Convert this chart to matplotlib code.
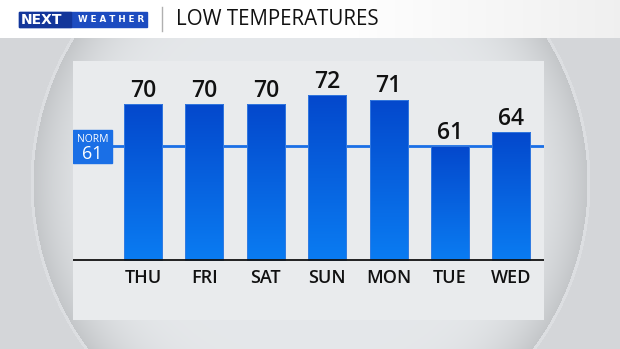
import numpy as np
import matplotlib
matplotlib.use("Agg")
from matplotlib import pyplot as plt
from matplotlib.patches import Rectangle

days = ["THU", "FRI", "SAT", "SUN", "MON", "TUE", "WED"]
lows = [70, 70, 70, 72, 71, 61, 64]
normal_low = 61
title = "LOW TEMPERATURES"

W, H = 620, 349
fig = plt.figure(figsize=(W / 100, H / 100), dpi=100)

# background: gray with a lighter "lens" circle
bg = fig.add_axes([0, 0, 1, 1])
bg.set_xlim(0, W)
bg.set_ylim(H, 0)
bg.axis("off")
yy, xx = np.mgrid[0:H, 0:W]
r = np.hypot(xx - 310, yy - 183)
val = np.full((H, W), 0.845)
inside = r < 277
t = np.clip((r - 160) / 117, 0, 1)
val[inside] = (0.91 - 0.13 * t ** 3)[inside]
rim = (r >= 277) & (r < 280)
val[rim] = 0.875
img = np.dstack([val - 0.012, val - 0.002, val + 0.008])
bg.imshow(np.clip(img, 0, 1), extent=(0, W, H, 0), aspect="auto", zorder=0)

# header band
hx = np.linspace(0, 1, 300)
hdr = np.clip(1.0 - 0.06 * np.clip((hx - 0.55) / 0.45, 0, 1), 0, 1)
bg.imshow(np.dstack([hdr, hdr, hdr]), extent=(0, W, 38, 0), aspect="auto", zorder=1)
bg.add_patch(Rectangle((19, 12), 128, 15, color="#1d4cc0", zorder=2))
bg.add_patch(Rectangle((19, 12), 52, 15, color="#13369a", zorder=2))
bg.text(21, 20, "NEXT", color="white", fontsize=10, fontweight="bold",
        family="DejaVu Sans", va="center", ha="left", zorder=3)
bg.text(78, 20, "W E A T H E R", color="white", fontsize=6.3, fontweight="bold",
        family="DejaVu Sans", va="center", ha="left", zorder=3)
bg.plot([162, 162], [7, 31], color="#b0b0b0", lw=1, zorder=2)
bg.text(176, 19.5, title, color="#111111", fontsize=14.8, family="Open Sans",
        va="center", ha="left", zorder=3)

# chart panel
ax = fig.add_axes([73 / W, 1 - 320 / H, (544 - 73) / W, (320 - 61) / H])
ax.set_facecolor("#e9ebed")
for s in ax.spines.values():
    s.set_visible(False)
base = 36.7
ax.set_ylim(23.85, 79.3)
x = np.arange(len(days))
ax.set_xlim(-1.14, 6.53)
ax.set_xticks([])
ax.set_yticks([])

grad = np.linspace(0, 1, 256)[:, None]
cmap = matplotlib.colors.LinearSegmentedColormap.from_list("b", ["#0a7cf2", "#0448cc"])
bw = 0.62
for i, v in enumerate(lows):
    rect = Rectangle((x[i] - bw / 2, base), bw, v - base, facecolor="none",
                     edgecolor="#3a7ee0", lw=0.6, zorder=3)
    ax.add_patch(rect)
    im = ax.imshow(grad, cmap=cmap, extent=(x[i] - bw / 2, x[i] + bw / 2, base, v),
                   origin="lower", aspect="auto", zorder=2)
    im.set_clip_path(rect)
    ax.text(x[i], v + 0.3, str(v), ha="center", va="bottom", fontsize=16.5,
            family="Open Sans", fontweight="semibold", color="#111111", zorder=4)
    ax.text(x[i], base - 3.9, days[i], ha="center", va="center", fontsize=13,
            family="Open Sans", fontweight="semibold", color="#111111", zorder=4)

ax.axhline(base, color="#111111", lw=1.3, zorder=4)
ax.plot([-0.505, 6.53], [normal_low, normal_low], color="#1a6fe6", lw=2, zorder=1)
ax.add_patch(Rectangle((-1.14, 57.5), 0.635, 7.0, color="#1a6fe6", zorder=3))
ax.text(-0.82, 62.6, "NORM", color="white", fontsize=7.5, family="Open Sans",
        ha="center", va="center", zorder=4)
ax.text(-0.82, 59.3, str(normal_low), color="white", fontsize=13, family="Open Sans",
        ha="center", va="center", zorder=4)

fig.savefig("out.png", dpi=100)
